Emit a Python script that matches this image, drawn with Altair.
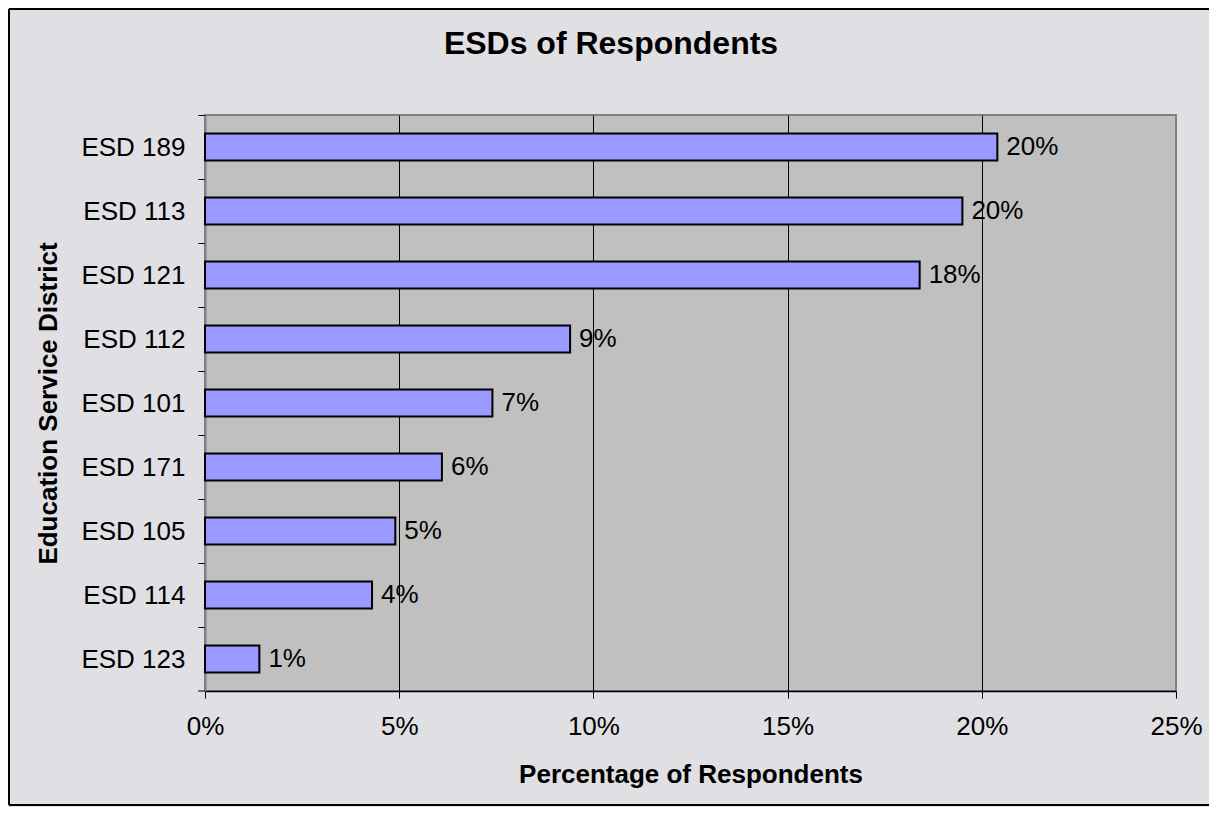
import altair as alt
import pandas as pd

# ---- data ----
districts = ["ESD 189", "ESD 113", "ESD 121", "ESD 112", "ESD 101",
             "ESD 171", "ESD 105", "ESD 114", "ESD 123"]
shares = [0.204, 0.195, 0.184, 0.094, 0.074, 0.061, 0.049, 0.043, 0.014]
bar_labels = ["20%", "20%", "18%", "9%", "7%", "6%", "5%", "4%", "1%"]
x_ticks = [0, 0.05, 0.10, 0.15, 0.20, 0.25]
chart_title = "ESDs of Respondents"
x_title = "Percentage of Respondents"
y_title = "Education Service District"

df = pd.DataFrame({"district": districts, "share": shares, "label": bar_labels})

FONT = "Liberation Sans"
W, H = 971, 576
STEP = H / len(districts)
PAD = {"left": 197, "top": 107, "right": 33, "bottom": 116}

x_enc = alt.X(
    "share:Q",
    scale=alt.Scale(domain=[0, 0.25], nice=False, zero=True),
    axis=alt.Axis(
        values=x_ticks, format=".0%", title=x_title,
        grid=True,
        gridColor={"condition": {"test": "datum.value > 0.24", "value": "#808080"}, "value": "#000000"},
        gridWidth=1,
        labelFont=FONT, labelFontSize=26, labelColor="#000000", labelPadding=15,
        labelFlush=False, labelOverlap=False,
        tickSize=7, tickColor="#000000", tickWidth=1,
        domainColor="#000000", domainWidth=1.5,
        titleFont=FONT, titleFontSize=26, titleFontWeight="bold", titleColor="#000000",
        titleY=83, titleBaseline="middle",
    ),
)

y_enc = alt.Y(
    "district:N",
    sort=districts,
    scale=alt.Scale(paddingInner=0.58, paddingOuter=0.29),
    axis=alt.Axis(
        title=y_title, grid=False,
        tickOffset=-STEP / 2, labelOffset=STEP / 2,
        labelFont=FONT, labelFontSize=26, labelColor="#000000", labelPadding=13,
        tickSize=7, tickColor="#000000", tickWidth=1,
        domainColor="#808080", domainWidth=2,
        titleFont=FONT, titleFontSize=26, titleFontWeight="bold", titleColor="#000000",
        titleX=-157, titleY=H / 2, titleBaseline="middle", titleAlign="center", titleAngle=-90,
    ),
)

bars = alt.Chart(df).mark_bar(
    color="#9999FF", stroke="#000000", strokeWidth=2
).encode(x=x_enc, y=y_enc)

texts = alt.Chart(df).mark_text(
    align="left", baseline="middle", dx=9, font=FONT, fontSize=26, color="#000000"
).encode(x="share:Q", y=alt.Y("district:N", sort=districts), text="label:N")

title_mark = alt.Chart(alt.Data(values=[{"t": chart_title}])).mark_text(
    align="center", baseline="middle", font=FONT, fontSize=32, fontWeight="bold", color="#000000"
).encode(text="t:N", x=alt.value(406), y=alt.value(-71))

one = alt.Data(values=[{"t": 1}])
# bottom category tick of the y axis (closing the last band)
last_tick = alt.Chart(one).mark_rule(color="#000000", strokeWidth=1).encode(
    x=alt.value(-7), x2=alt.value(0), y=alt.value(H))
# outer chart frame (left, top, bottom edges)
frame_left = alt.Chart(one).mark_rule(color="#000000", strokeWidth=2).encode(
    x=alt.value(-196), y=alt.value(-106), y2=alt.value(690))
frame_top = alt.Chart(one).mark_rule(color="#000000", strokeWidth=2).encode(
    x=alt.value(-196), x2=alt.value(1100), y=alt.value(-106))
frame_bottom = alt.Chart(one).mark_rule(color="#000000", strokeWidth=2).encode(
    x=alt.value(-196), x2=alt.value(1100), y=alt.value(690))

chart = alt.layer(bars, texts, title_mark, last_tick, frame_left, frame_top, frame_bottom).properties(
    width=W, height=H,
    padding=PAD,
    autosize=alt.AutoSizeParams(type="none"),
    background="#E0DFE3",
).configure_view(
    fill="#C0C0C0", stroke="#808080", strokeWidth=2
)

chart.save("out.html", embed_options={"renderer": "svg", "actions": False})
